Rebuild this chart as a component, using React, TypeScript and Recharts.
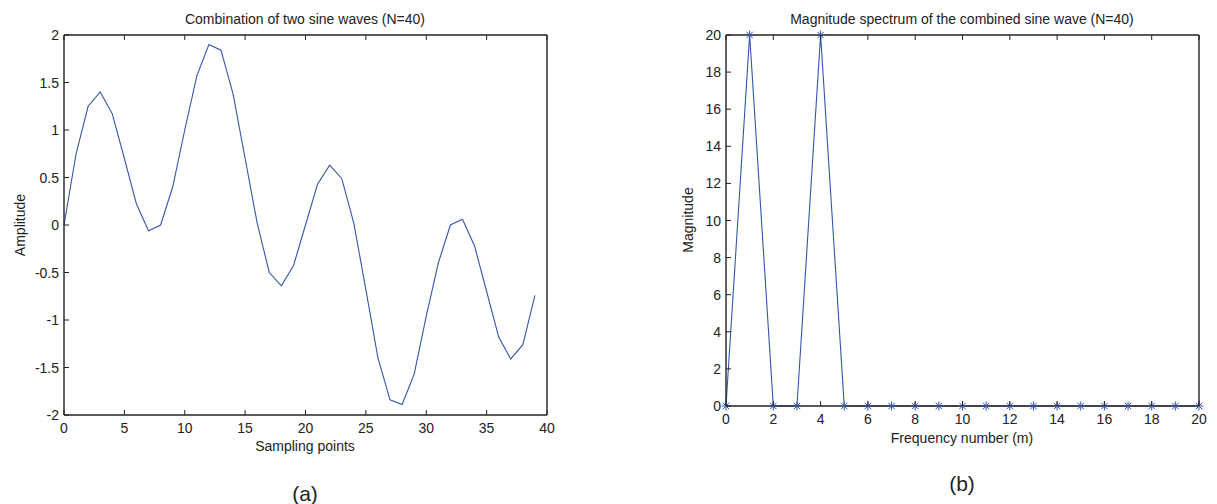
import React from 'react';
import { LineChart, Line, XAxis, YAxis } from 'recharts';

const samplePoints = [
  0, 1, 2, 3, 4, 5, 6, 7, 8, 9, 10, 11, 12, 13, 14, 15, 16, 17, 18, 19,
  20, 21, 22, 23, 24, 25, 26, 27, 28, 29, 30, 31, 32, 33, 34, 35, 36, 37, 38, 39,
];
const amplitude = [
  0, 0.75, 1.25, 1.4, 1.17, 0.7, 0.22, -0.06, 0, 0.4,
  1.0, 1.57, 1.9, 1.84, 1.38, 0.7, 0.02, -0.5, -0.64, -0.43,
  0, 0.43, 0.63, 0.49, 0.02, -0.68, -1.4, -1.84, -1.89, -1.57,
  -0.96, -0.4, 0, 0.06, -0.22, -0.7, -1.18, -1.41, -1.26, -0.74,
];
const freqNumbers = [0, 1, 2, 3, 4, 5, 6, 7, 8, 9, 10, 11, 12, 13, 14, 15, 16, 17, 18, 19, 20];
const magnitude = [0, 20, 0, 0, 20, 0, 0, 0, 0, 0, 0, 0, 0, 0, 0, 0, 0, 0, 0, 0, 0];

const waveXTicks = [0, 5, 10, 15, 20, 25, 30, 35, 40];
const waveYTicks = [-2, -1.5, -1, -0.5, 0, 0.5, 1, 1.5, 2];
const specXTicks = [0, 2, 4, 6, 8, 10, 12, 14, 16, 18, 20];
const specYTicks = [0, 2, 4, 6, 8, 10, 12, 14, 16, 18, 20];

const waveData = samplePoints.map((n, i) => ({ n, value: amplitude[i] }));
const specData = freqNumbers.map((m, i) => ({ m, value: magnitude[i] }));

const FONT = '"Liberation Sans", Arial, Helvetica, sans-serif';
const INK = '#222';
const BLUE = '#3654ac';
const TICK = 5;

// MATLAB style ticks: short marks pointing into the box, labels outside
const bottomTick = (props: any) => (
  <g>
    <line x1={props.x} y1={props.y} x2={props.x} y2={props.y - TICK} stroke={INK} strokeWidth={1} />
    <text x={props.x} y={props.y + 13} textAnchor="middle" dominantBaseline="central" fontSize={14} fill={INK} fontFamily={FONT}>
      {props.payload.value}
    </text>
  </g>
);
const topTick = (props: any) => (
  <line x1={props.x} y1={props.y} x2={props.x} y2={props.y + TICK} stroke={INK} strokeWidth={1} />
);
const leftTick = (props: any) => (
  <g>
    <line x1={props.x} y1={props.y} x2={props.x + TICK} y2={props.y} stroke={INK} strokeWidth={1} />
    <text x={props.x - 5} y={props.y} textAnchor="end" dominantBaseline="central" fontSize={14} fill={INK} fontFamily={FONT}>
      {props.payload.value}
    </text>
  </g>
);
const rightTick = (props: any) => (
  <line x1={props.x} y1={props.y} x2={props.x - TICK} y2={props.y} stroke={INK} strokeWidth={1} />
);

const Asterisk = (props: any) => {
  const { cx, cy } = props;
  if (cx == null || cy == null) return null;
  const r = 4.5;
  const d = r * 0.72;
  return (
    <g stroke={BLUE} strokeWidth={1}>
      <line x1={cx - r} y1={cy} x2={cx + r} y2={cy} />
      <line x1={cx} y1={cy - r} x2={cx} y2={cy + r} />
      <line x1={cx - d} y1={cy - d} x2={cx + d} y2={cy + d} />
      <line x1={cx - d} y1={cy + d} x2={cx + d} y2={cy - d} />
    </g>
  );
};

const txt = (left: number, top: number, size: number, rotate = 0): React.CSSProperties => ({
  position: 'absolute',
  left,
  top,
  transform: `translate(-50%, -50%) rotate(${rotate}deg)`,
  fontSize: size,
  fontFamily: FONT,
  color: INK,
  whiteSpace: 'nowrap',
});

const axisLine = { stroke: INK, strokeWidth: 1.4 };
const svgStyle: React.CSSProperties = { overflow: 'visible' };

const App: React.FC = () => {
  return (
    <div style={{ position: 'absolute', left: 0, top: 0, width: 1217, height: 504, background: '#fff', overflow: 'hidden' }}>
      <div style={{ position: 'absolute', left: 0, top: 0 }}>
        <LineChart width={600} height={504} data={waveData} style={svgStyle} margin={{ top: 34, right: 52, left: 63, bottom: 88 }}>
          <XAxis dataKey="n" type="number" domain={[0, 40]} ticks={waveXTicks} interval={0} height={1} tickSize={0} tickMargin={0} tick={bottomTick} axisLine={axisLine} />
          <XAxis xAxisId="top" orientation="top" dataKey="n" type="number" domain={[0, 40]} ticks={waveXTicks} interval={0} height={1} tickSize={0} tickMargin={0} tick={topTick} axisLine={axisLine} />
          <YAxis type="number" domain={[-2, 2]} ticks={waveYTicks} interval={0} width={1} tickSize={0} tickMargin={0} tick={leftTick} axisLine={axisLine} />
          <YAxis yAxisId="right" orientation="right" type="number" domain={[-2, 2]} ticks={waveYTicks} interval={0} width={1} tickSize={0} tickMargin={0} tick={rightTick} axisLine={axisLine} />
          <Line type="linear" dataKey="value" stroke={BLUE} strokeWidth={1.1} dot={false} isAnimationActive={false} />
        </LineChart>
      </div>
      <div style={{ position: 'absolute', left: 600, top: 0 }}>
        <LineChart width={617} height={504} data={specData} style={svgStyle} margin={{ top: 34, right: 17, left: 125, bottom: 97 }}>
          <XAxis dataKey="m" type="number" domain={[0, 20]} ticks={specXTicks} interval={0} height={1} tickSize={0} tickMargin={0} tick={bottomTick} axisLine={axisLine} />
          <XAxis xAxisId="top" orientation="top" dataKey="m" type="number" domain={[0, 20]} ticks={specXTicks} interval={0} height={1} tickSize={0} tickMargin={0} tick={topTick} axisLine={axisLine} />
          <YAxis type="number" domain={[0, 20]} ticks={specYTicks} interval={0} width={1} tickSize={0} tickMargin={0} tick={leftTick} axisLine={axisLine} />
          <YAxis yAxisId="right" orientation="right" type="number" domain={[0, 20]} ticks={specYTicks} interval={0} width={1} tickSize={0} tickMargin={0} tick={rightTick} axisLine={axisLine} />
          <Line type="linear" dataKey="value" stroke={BLUE} strokeWidth={1.1} dot={<Asterisk />} isAnimationActive={false} />
        </LineChart>
      </div>

      <div style={txt(305, 19, 14)}>Combination of two sine waves (N=40)</div>
      <div style={txt(20, 225, 14, -90)}>Amplitude</div>
      <div style={txt(305, 446, 14)}>Sampling points</div>
      <div style={txt(305, 494, 21)}>(a)</div>

      <div style={txt(962, 19, 14)}>Magnitude spectrum of the combined sine wave (N=40)</div>
      <div style={txt(688, 220, 14, -90)}>Magnitude</div>
      <div style={txt(962, 438, 14)}>Frequency number (m)</div>
      <div style={txt(962, 484, 21)}>(b)</div>
    </div>
  );
};

export default App;
